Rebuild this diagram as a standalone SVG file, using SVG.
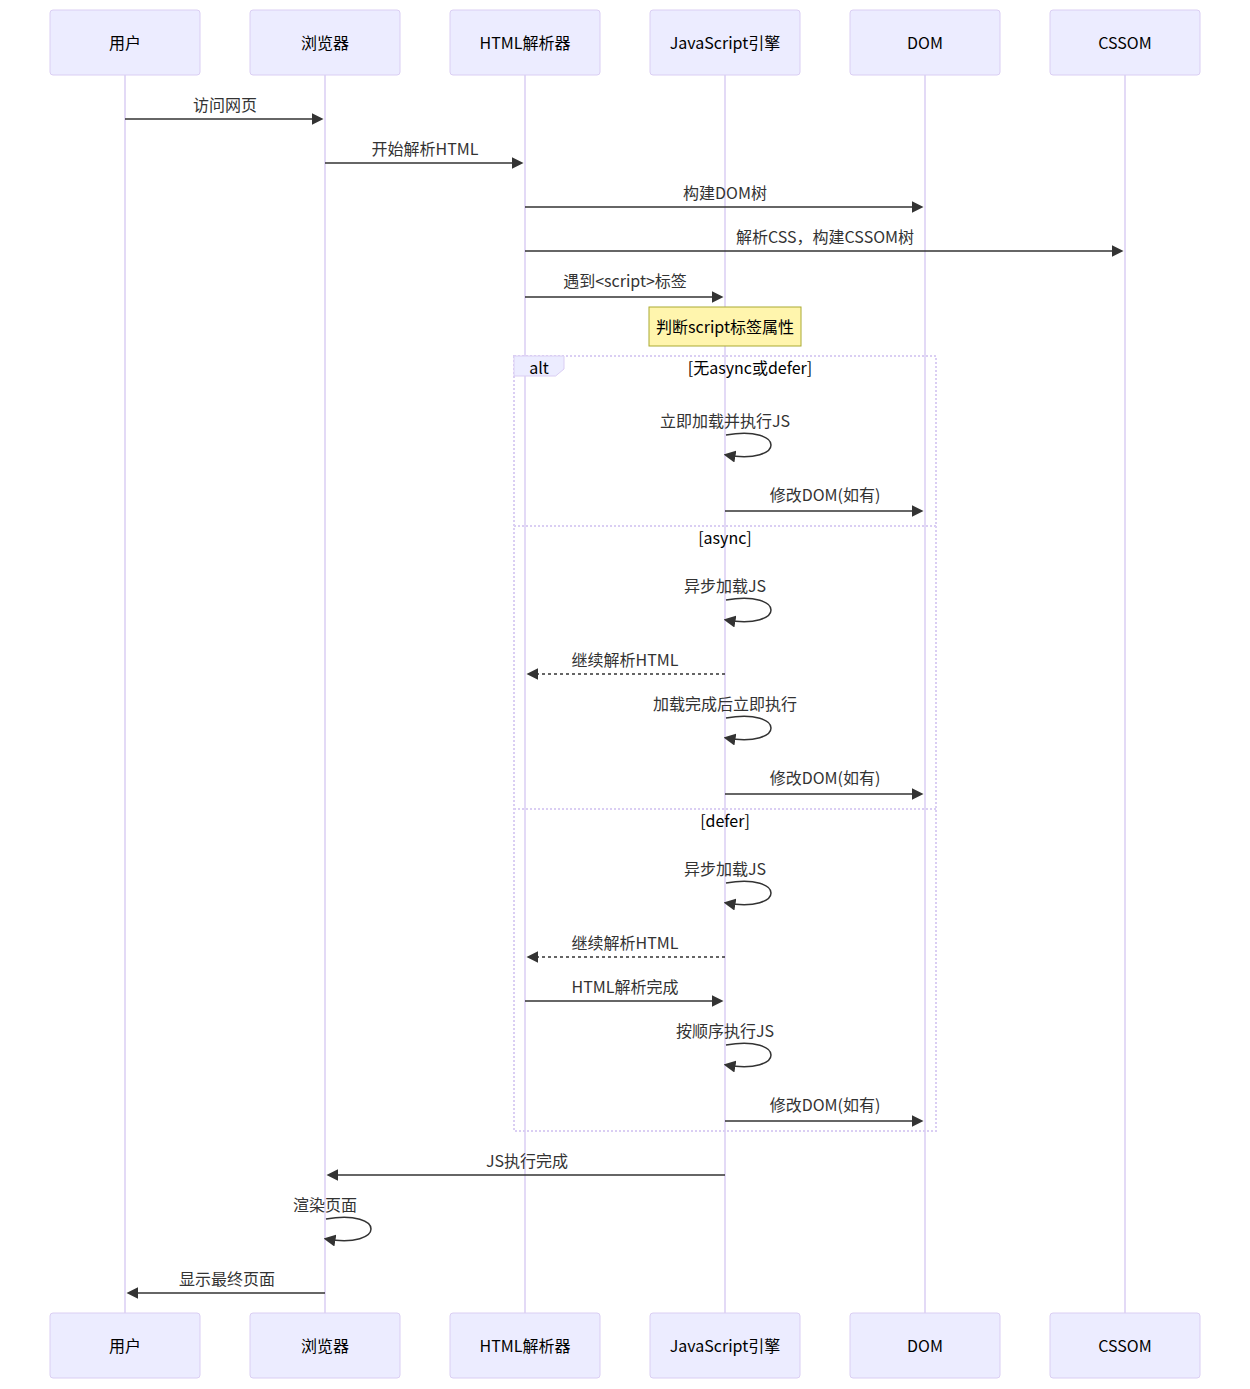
<svg xmlns="http://www.w3.org/2000/svg" width="1250" height="1389" viewBox="0 0 1250 1389">
<style>
.actor{fill:#ECECFF;stroke:#DACEF3;stroke-width:1}
.atext{font-family:"Noto Sans CJK SC","Liberation Sans",sans-serif;font-size:16px;fill:#000;text-anchor:middle;dominant-baseline:central}
.life{stroke:#DACEF3;stroke-width:1.5;fill:none}
.msg{stroke:#333;stroke-width:1.5;fill:none;marker-end:url(#arrow)}
.dash{stroke-dasharray:3,3}
.mtext{font-family:"Noto Sans CJK SC","Liberation Sans",sans-serif;font-size:16px;fill:#333;text-anchor:middle;dominant-baseline:central}
.loopline{stroke:#DACEF3;stroke-width:2;stroke-dasharray:2,2;fill:none}
.ltext{font-family:"Noto Sans CJK SC","Liberation Sans",sans-serif;font-size:16px;fill:#000;text-anchor:middle;dominant-baseline:central}
.note{fill:#FFF5AD;stroke:#AAAA33;stroke-width:1}
</style>
<defs>
<marker id="arrow" viewBox="0 0 10 10" refX="7.9" refY="5" markerUnits="userSpaceOnUse" markerWidth="12" markerHeight="12" orient="auto">
<path d="M 0 0 L 10 5 L 0 10 z" fill="#333"/>
</marker>
</defs>
<rect width="1250" height="1389" fill="#fff"/>
<g id="lifelines">
<line class="life" x1="125" y1="75" x2="125" y2="1313"/>
<line class="life" x1="325" y1="75" x2="325" y2="1313"/>
<line class="life" x1="525" y1="75" x2="525" y2="1313"/>
<line class="life" x1="725" y1="75" x2="725" y2="1313"/>
<line class="life" x1="925" y1="75" x2="925" y2="1313"/>
<line class="life" x1="1125" y1="75" x2="1125" y2="1313"/>
</g>
<g id="actor-user">
<rect class="actor" x="50" y="10" width="150" height="65" rx="3"/><text class="atext" x="125" y="42">用户</text>
<rect class="actor" x="50" y="1313" width="150" height="65" rx="3"/><text class="atext" x="125" y="1345">用户</text>
</g>
<g id="actor-browser">
<rect class="actor" x="250" y="10" width="150" height="65" rx="3"/><text class="atext" x="325" y="42">浏览器</text>
<rect class="actor" x="250" y="1313" width="150" height="65" rx="3"/><text class="atext" x="325" y="1345">浏览器</text>
</g>
<g id="actor-parser">
<rect class="actor" x="450" y="10" width="150" height="65" rx="3"/><text class="atext" x="525" y="42">HTML解析器</text>
<rect class="actor" x="450" y="1313" width="150" height="65" rx="3"/><text class="atext" x="525" y="1345">HTML解析器</text>
</g>
<g id="actor-js">
<rect class="actor" x="650" y="10" width="150" height="65" rx="3"/><text class="atext" x="725" y="42">JavaScript引擎</text>
<rect class="actor" x="650" y="1313" width="150" height="65" rx="3"/><text class="atext" x="725" y="1345">JavaScript引擎</text>
</g>
<g id="actor-dom">
<rect class="actor" x="850" y="10" width="150" height="65" rx="3"/><text class="atext" x="925" y="42">DOM</text>
<rect class="actor" x="850" y="1313" width="150" height="65" rx="3"/><text class="atext" x="925" y="1345">DOM</text>
</g>
<g id="actor-cssom">
<rect class="actor" x="1050" y="10" width="150" height="65" rx="3"/><text class="atext" x="1125" y="42">CSSOM</text>
<rect class="actor" x="1050" y="1313" width="150" height="65" rx="3"/><text class="atext" x="1125" y="1345">CSSOM</text>
</g>
<g id="note">
<rect class="note" x="649" y="307" width="152" height="39"/>
<text class="ltext" x="725" y="326">判断script标签属性</text>
</g>
<g id="alt-block">
<rect class="loopline" x="514" y="356" width="422" height="775"/>
<line class="loopline" x1="514" y1="526" x2="936" y2="526"/>
<line class="loopline" x1="514" y1="809" x2="936" y2="809"/>
<polygon points="514,356 564,356 564,369 555.6,376 514,376" fill="#ECECFF" stroke="#DACEF3" stroke-width="1"/>
<text class="ltext" x="539" y="367">alt</text>
<text class="ltext" x="750" y="367">[无async或defer]</text>
<text class="ltext" x="725" y="537">[async]</text>
<text class="ltext" x="725" y="820">[defer]</text>
</g>
<g id="connectors">
<line class="msg" x1="125" y1="119" x2="321" y2="119"/>
<text class="mtext" x="225" y="104">访问网页</text>
<line class="msg" x1="325" y1="163" x2="521" y2="163"/>
<text class="mtext" x="425" y="148">开始解析HTML</text>
<line class="msg" x1="525" y1="207" x2="921" y2="207"/>
<text class="mtext" x="725" y="192">构建DOM树</text>
<line class="msg" x1="525" y1="251" x2="1121" y2="251"/>
<text class="mtext" x="825" y="236">解析CSS，构建CSSOM树</text>
<line class="msg" x1="525" y1="297" x2="721" y2="297"/>
<text class="mtext" x="625" y="280">遇到&lt;script&gt;标签</text>

<path class="msg" d="M 726,435 C 786,425 786,465 726,455"/>
<text class="mtext" x="725" y="420">立即加载并执行JS</text>
<line class="msg" x1="725" y1="511" x2="921" y2="511"/>
<text class="mtext" x="825" y="494">修改DOM(如有)</text>

<path class="msg" d="M 726,600 C 786,590 786,630 726,620"/>
<text class="mtext" x="725" y="585">异步加载JS</text>
<line class="msg dash" x1="725" y1="674" x2="529" y2="674"/>
<text class="mtext" x="625" y="659">继续解析HTML</text>
<path class="msg" d="M 726,718 C 786,708 786,748 726,738"/>
<text class="mtext" x="725" y="703">加载完成后立即执行</text>
<line class="msg" x1="725" y1="794" x2="921" y2="794"/>
<text class="mtext" x="825" y="777">修改DOM(如有)</text>

<path class="msg" d="M 726,883 C 786,873 786,913 726,903"/>
<text class="mtext" x="725" y="868">异步加载JS</text>
<line class="msg dash" x1="725" y1="957" x2="529" y2="957"/>
<text class="mtext" x="625" y="942">继续解析HTML</text>
<line class="msg" x1="525" y1="1001" x2="721" y2="1001"/>
<text class="mtext" x="625" y="986">HTML解析完成</text>
<path class="msg" d="M 726,1045 C 786,1035 786,1075 726,1065"/>
<text class="mtext" x="725" y="1030">按顺序执行JS</text>
<line class="msg" x1="725" y1="1121" x2="921" y2="1121"/>
<text class="mtext" x="825" y="1104">修改DOM(如有)</text>

<line class="msg" x1="725" y1="1175" x2="329" y2="1175"/>
<text class="mtext" x="527" y="1160">JS执行完成</text>
<path class="msg" d="M 326,1219 C 386,1209 386,1249 326,1239"/>
<text class="mtext" x="325" y="1204">渲染页面</text>
<line class="msg" x1="325" y1="1293" x2="129" y2="1293"/>
<text class="mtext" x="227" y="1278">显示最终页面</text>
</g>
</svg>
